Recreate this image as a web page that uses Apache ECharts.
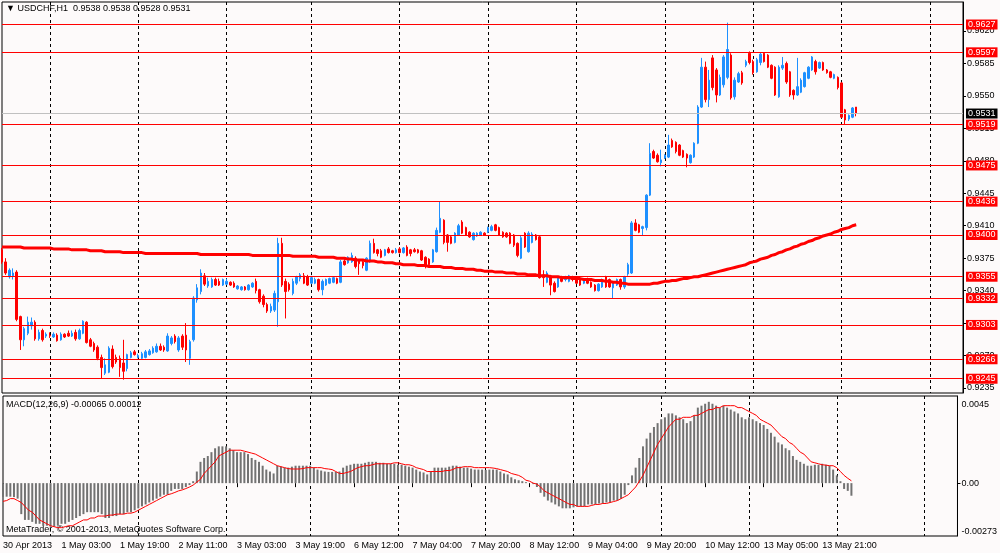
<!DOCTYPE html>
<html>
<head>
<meta charset="utf-8">
<title>USDCHF,H1</title>
<script src="https://cdn.jsdelivr.net/npm/echarts@6/dist/echarts.min.js"></script>
<style>
  html, body { margin: 0; padding: 0; background: #fdfafa; }
  #main { width: 1000px; height: 553px; }
</style>
</head>
<body>
<div id="main"></div>
<script>
// time labels, one every 16 hourly bars
var tickLabels = ['30 Apr 2013', '1 May 03:00', '1 May 19:00', '2 May 11:00', '3 May 03:00',
  '3 May 19:00', '6 May 12:00', '7 May 04:00', '7 May 20:00', '8 May 12:00', '9 May 04:00',
  '9 May 20:00', '10 May 12:00', '13 May 05:00', '13 May 21:00'];
// bars where the daily dashed grid line sits
var gridBars = [13, 37, 61, 84, 108, 132, 156, 180, 204, 228, 252];
var barCount = 262;

var priceTicks = [0.9235, 0.9270, 0.9305, 0.9340, 0.9375, 0.9410, 0.9445, 0.9480, 0.9515, 0.9550, 0.9585, 0.9620];
var macdTicks = [-0.00273, 0, 0.0045];

// horizontal levels drawn on the chart
var levels = [0.9627, 0.9597, 0.9519, 0.9475, 0.9436, 0.9400, 0.9355, 0.9332, 0.9303, 0.9266, 0.9245];
var lastPrice = 0.9531;

// [open, close, low, high]
var ohlc = [
  [0.9384,0.9371,0.9369,0.9386],[0.9371,0.9359,0.9357,0.9375],[0.9355,0.9362,0.9353,0.9364],[0.9356,0.9359,0.9352,0.9364],
  [0.9360,0.9309,0.9307,0.9362],[0.9312,0.9287,0.9276,0.9313],[0.9287,0.9299,0.9280,0.9301],[0.9294,0.9306,0.9292,0.9312],
  [0.9302,0.9306,0.9298,0.9311],[0.9306,0.9288,0.9286,0.9308],[0.9288,0.9295,0.9286,0.9298],[0.9297,0.9287,0.9285,0.9299],
  [0.9291,0.9293,0.9289,0.9295],[0.9292,0.9291,0.9289,0.9295],[0.9290,0.9293,0.9289,0.9295],[0.9292,0.9286,0.9285,0.9294],
  [0.9287,0.9293,0.9286,0.9295],[0.9293,0.9290,0.9289,0.9294],[0.9294,0.9291,0.9290,0.9297],[0.9291,0.9294,0.9290,0.9297],
  [0.9295,0.9288,0.9286,0.9298],[0.9288,0.9297,0.9287,0.9299],[0.9294,0.9307,0.9293,0.9308],[0.9306,0.9284,0.9283,0.9307],
  [0.9287,0.9280,0.9279,0.9289],[0.9283,0.9276,0.9274,0.9285],[0.9279,0.9267,0.9265,0.9281],[0.9268,0.9257,0.9245,0.9271],
  [0.9251,0.9260,0.9249,0.9267],[0.9252,0.9278,0.9251,0.9280],[0.9277,0.9258,0.9256,0.9281],[0.9268,0.9263,0.9261,0.9271],
  [0.9267,0.9257,0.9247,0.9270],[0.9262,0.9253,0.9244,0.9287],[0.9256,0.9271,0.9253,0.9272],[0.9268,0.9273,0.9267,0.9275],
  [0.9274,0.9271,0.9270,0.9276],[0.9268,0.9270,0.9267,0.9272],[0.9267,0.9272,0.9266,0.9274],[0.9268,0.9274,0.9267,0.9276],
  [0.9271,0.9275,0.9270,0.9277],[0.9273,0.9278,0.9272,0.9280],[0.9274,0.9280,0.9273,0.9283],[0.9280,0.9276,0.9275,0.9283],
  [0.9279,0.9276,0.9274,0.9281],[0.9275,0.9291,0.9274,0.9294],[0.9283,0.9289,0.9281,0.9291],[0.9291,0.9285,0.9283,0.9293],
  [0.9276,0.9289,0.9274,0.9291],[0.9291,0.9279,0.9276,0.9293],[0.9292,0.9276,0.9263,0.9305],[0.9267,0.9285,0.9260,0.9287],
  [0.9287,0.9332,0.9285,0.9334],[0.9330,0.9343,0.9327,0.9347],[0.9339,0.9359,0.9336,0.9363],[0.9356,0.9347,0.9345,0.9359],
  [0.9345,0.9350,0.9343,0.9354],[0.9344,0.9352,0.9343,0.9354],[0.9352,0.9346,0.9345,0.9354],[0.9350,0.9346,0.9345,0.9353],
  [0.9346,0.9352,0.9345,0.9353],[0.9347,0.9350,0.9346,0.9353],[0.9349,0.9346,0.9345,0.9350],[0.9348,0.9344,0.9343,0.9350],
  [0.9342,0.9345,0.9341,0.9346],[0.9341,0.9344,0.9340,0.9345],[0.9344,0.9341,0.9340,0.9345],[0.9341,0.9346,0.9340,0.9347],
  [0.9344,0.9348,0.9343,0.9349],[0.9350,0.9340,0.9337,0.9353],[0.9341,0.9328,0.9326,0.9342],[0.9334,0.9325,0.9322,0.9336],
  [0.9325,0.9318,0.9316,0.9327],[0.9318,0.9323,0.9316,0.9326],[0.9319,0.9337,0.9317,0.9340],[0.9328,0.9391,0.9301,0.9397],
  [0.9391,0.9346,0.9344,0.9397],[0.9350,0.9339,0.9310,0.9353],[0.9347,0.9341,0.9339,0.9349],[0.9337,0.9350,0.9335,0.9353],
  [0.9348,0.9355,0.9346,0.9356],[0.9353,0.9357,0.9350,0.9359],[0.9356,0.9348,0.9347,0.9359],[0.9355,0.9346,0.9345,0.9357],
  [0.9348,0.9354,0.9347,0.9356],[0.9348,0.9352,0.9347,0.9354],[0.9352,0.9341,0.9339,0.9353],[0.9341,0.9350,0.9335,0.9352],
  [0.9346,0.9352,0.9345,0.9353],[0.9348,0.9353,0.9347,0.9354],[0.9349,0.9354,0.9348,0.9355],[0.9353,0.9348,0.9347,0.9354],
  [0.9349,0.9371,0.9348,0.9373],[0.9372,0.9368,0.9367,0.9374],[0.9370,0.9376,0.9369,0.9377],[0.9371,0.9378,0.9370,0.9381],
  [0.9375,0.9366,0.9364,0.9377],[0.9373,0.9369,0.9357,0.9374],[0.9371,0.9367,0.9364,0.9373],[0.9362,0.9375,0.9361,0.9376],
  [0.9371,0.9391,0.9370,0.9394],[0.9391,0.9381,0.9380,0.9396],[0.9384,0.9380,0.9377,0.9385],[0.9383,0.9376,0.9375,0.9385],
  [0.9378,0.9384,0.9377,0.9385],[0.9385,0.9381,0.9380,0.9387],[0.9383,0.9381,0.9380,0.9384],[0.9381,0.9384,0.9380,0.9386],
  [0.9385,0.9381,0.9380,0.9387],[0.9381,0.9386,0.9380,0.9387],[0.9387,0.9378,0.9377,0.9389],[0.9384,0.9380,0.9377,0.9385],
  [0.9384,0.9382,0.9381,0.9386],[0.9384,0.9381,0.9380,0.9385],[0.9383,0.9373,0.9372,0.9384],[0.9376,0.9366,0.9364,0.9377],
  [0.9374,0.9368,0.9367,0.9375],[0.9371,0.9384,0.9370,0.9385],[0.9382,0.9405,0.9381,0.9408],[0.9403,0.9418,0.9402,0.9436],
  [0.9416,0.9392,0.9390,0.9417],[0.9400,0.9392,0.9382,0.9401],[0.9398,0.9391,0.9390,0.9399],[0.9392,0.9402,0.9391,0.9403],
  [0.9400,0.9410,0.9399,0.9412],[0.9414,0.9402,0.9401,0.9416],[0.9408,0.9400,0.9399,0.9409],[0.9403,0.9398,0.9397,0.9404],
  [0.9395,0.9402,0.9394,0.9403],[0.9399,0.9402,0.9398,0.9403],[0.9400,0.9403,0.9399,0.9404],[0.9402,0.9400,0.9399,0.9403],
  [0.9403,0.9408,0.9402,0.9409],[0.9405,0.9409,0.9404,0.9411],[0.9411,0.9405,0.9404,0.9412],[0.9408,0.9400,0.9399,0.9409],
  [0.9403,0.9398,0.9397,0.9404],[0.9402,0.9398,0.9397,0.9403],[0.9402,0.9391,0.9390,0.9403],[0.9400,0.9389,0.9387,0.9401],
  [0.9391,0.9378,0.9376,0.9392],[0.9375,0.9397,0.9374,0.9399],[0.9402,0.9387,0.9386,0.9403],[0.9382,0.9402,0.9381,0.9404],
  [0.9392,0.9401,0.9391,0.9403],[0.9400,0.9395,0.9394,0.9401],[0.9398,0.9354,0.9353,0.9399],[0.9357,0.9354,0.9344,0.9362],
  [0.9349,0.9359,0.9348,0.9361],[0.9356,0.9346,0.9335,0.9357],[0.9348,0.9339,0.9338,0.9350],[0.9344,0.9354,0.9343,0.9355],
  [0.9353,0.9350,0.9349,0.9356],[0.9352,0.9355,0.9350,0.9356],[0.9350,0.9356,0.9349,0.9357],[0.9355,0.9352,0.9350,0.9356],
  [0.9354,0.9348,0.9347,0.9355],[0.9353,0.9346,0.9345,0.9354],[0.9348,0.9352,0.9347,0.9353],[0.9353,0.9348,0.9347,0.9354],
  [0.9349,0.9344,0.9343,0.9350],[0.9346,0.9340,0.9339,0.9347],[0.9340,0.9347,0.9339,0.9348],[0.9344,0.9352,0.9343,0.9353],
  [0.9355,0.9344,0.9343,0.9356],[0.9352,0.9344,0.9343,0.9353],[0.9343,0.9349,0.9332,0.9350],[0.9346,0.9352,0.9345,0.9353],
  [0.9352,0.9344,0.9341,0.9353],[0.9344,0.9355,0.9342,0.9356],[0.9358,0.9368,0.9356,0.9370],[0.9359,0.9413,0.9358,0.9415],
  [0.9413,0.9405,0.9404,0.9417],[0.9411,0.9403,0.9402,0.9412],[0.9407,0.9409,0.9400,0.9410],[0.9408,0.9443,0.9405,0.9444],
  [0.9443,0.9488,0.9442,0.9499],[0.9490,0.9483,0.9482,0.9492],[0.9486,0.9479,0.9478,0.9488],[0.9478,0.9481,0.9474,0.9492],
  [0.9483,0.9486,0.9482,0.9487],[0.9484,0.9497,0.9483,0.9508],[0.9502,0.9495,0.9494,0.9504],[0.9500,0.9490,0.9488,0.9501],
  [0.9497,0.9486,0.9485,0.9498],[0.9491,0.9484,0.9483,0.9492],[0.9487,0.9483,0.9473,0.9488],[0.9478,0.9486,0.9477,0.9487],
  [0.9484,0.9499,0.9483,0.9500],[0.9499,0.9538,0.9498,0.9540],[0.9538,0.9581,0.9537,0.9591],[0.9581,0.9546,0.9543,0.9587],
  [0.9546,0.9567,0.9538,0.9578],[0.9591,0.9559,0.9556,0.9594],[0.9578,0.9551,0.9543,0.9580],[0.9551,0.9570,0.9550,0.9573],
  [0.9562,0.9592,0.9559,0.9594],[0.9570,0.9600,0.9568,0.9629],[0.9594,0.9548,0.9546,0.9596],[0.9549,0.9567,0.9546,0.9570],
  [0.9565,0.9574,0.9564,0.9576],[0.9575,0.9564,0.9562,0.9577],[0.9583,0.9587,0.9581,0.9589],[0.9596,0.9586,0.9584,0.9598],
  [0.9587,0.9575,0.9573,0.9589],[0.9576,0.9589,0.9575,0.9591],[0.9586,0.9595,0.9583,0.9597],[0.9596,0.9587,0.9586,0.9597],
  [0.9594,0.9581,0.9580,0.9595],[0.9583,0.9569,0.9568,0.9584],[0.9581,0.9551,0.9550,0.9582],[0.9549,0.9581,0.9548,0.9583],
  [0.9580,0.9583,0.9578,0.9592],[0.9585,0.9565,0.9563,0.9587],[0.9576,0.9551,0.9549,0.9577],[0.9556,0.9551,0.9546,0.9557],
  [0.9551,0.9560,0.9550,0.9591],[0.9554,0.9567,0.9553,0.9569],[0.9560,0.9575,0.9559,0.9576],[0.9569,0.9581,0.9568,0.9582],
  [0.9578,0.9592,0.9577,0.9593],[0.9587,0.9576,0.9573,0.9589],[0.9580,0.9586,0.9579,0.9587],[0.9586,0.9578,0.9577,0.9587],
  [0.9578,0.9575,0.9574,0.9579],[0.9576,0.9570,0.9569,0.9577],[0.9569,0.9573,0.9568,0.9574],[0.9570,0.9559,0.9557,0.9571],
  [0.9564,0.9527,0.9526,0.9565],[0.9535,0.9524,0.9519,0.9536],[0.9525,0.9529,0.9523,0.9530],[0.9527,0.9537,0.9526,0.9538],
  [0.9538,0.9531,0.9528,0.9538]
];

// moving average drawn over the candles
var maValues = [
  0.9387,0.9387,0.9387,0.9387,0.9387,0.9387,0.9386,0.9386,0.9386,0.9386,
  0.9386,0.9386,0.9386,0.9386,0.9385,0.9385,0.9385,0.9385,0.9385,0.9384,
  0.9384,0.9384,0.9384,0.9384,0.9383,0.9383,0.9383,0.9383,0.9382,0.9382,
  0.9382,0.9382,0.9382,0.9381,0.9381,0.9381,0.9381,0.9381,0.9381,0.9380,
  0.9380,0.9380,0.9380,0.9380,0.9380,0.9380,0.9380,0.9380,0.9380,0.9380,
  0.9380,0.9380,0.9380,0.9380,0.9379,0.9379,0.9379,0.9379,0.9379,0.9379,
  0.9379,0.9379,0.9379,0.9379,0.9379,0.9379,0.9379,0.9379,0.9378,0.9378,
  0.9378,0.9378,0.9378,0.9378,0.9378,0.9378,0.9378,0.9378,0.9378,0.9377,
  0.9377,0.9377,0.9377,0.9377,0.9377,0.9377,0.9376,0.9376,0.9376,0.9376,
  0.9376,0.9375,0.9375,0.9375,0.9374,0.9374,0.9373,0.9373,0.9373,0.9372,
  0.9372,0.9372,0.9371,0.9371,0.9370,0.9370,0.9370,0.9369,0.9369,0.9368,
  0.9368,0.9368,0.9368,0.9367,0.9367,0.9367,0.9366,0.9366,0.9366,0.9366,
  0.9365,0.9365,0.9365,0.9364,0.9364,0.9364,0.9363,0.9363,0.9363,0.9362,
  0.9362,0.9361,0.9361,0.9361,0.9360,0.9360,0.9360,0.9359,0.9359,0.9359,
  0.9358,0.9358,0.9358,0.9357,0.9357,0.9357,0.9356,0.9356,0.9356,0.9355,
  0.9355,0.9355,0.9354,0.9354,0.9354,0.9353,0.9353,0.9353,0.9352,0.9352,
  0.9352,0.9351,0.9351,0.9351,0.9350,0.9350,0.9349,0.9349,0.9348,0.9348,
  0.9347,0.9347,0.9347,0.9347,0.9347,0.9347,0.9347,0.9348,0.9348,0.9349,
  0.9350,0.9350,0.9351,0.9351,0.9352,0.9353,0.9353,0.9354,0.9355,0.9355,
  0.9356,0.9357,0.9358,0.9359,0.9360,0.9361,0.9362,0.9363,0.9364,0.9365,
  0.9366,0.9367,0.9368,0.9370,0.9371,0.9372,0.9374,0.9375,0.9376,0.9378,
  0.9379,0.9381,0.9382,0.9384,0.9385,0.9387,0.9388,0.9390,0.9391,0.9393,
  0.9394,0.9396,0.9397,0.9399,0.9400,0.9401,0.9403,0.9404,0.9406,0.9407,
  0.9408,0.9410,0.9411
];

// MACD(12,26,9) main values (histogram)
var macdHist = [
  -0.0007,-0.0007,-0.0007,-0.00072,-0.0008,-0.0016,-0.0019,-0.0019,-0.002,-0.0021,
  -0.0021,-0.0022,-0.0022,-0.00225,-0.00225,-0.0022,-0.0021,-0.0021,-0.002,-0.0019,
  -0.0018,-0.0017,-0.0016,-0.0015,-0.0015,-0.0015,-0.0015,-0.0016,-0.0018,-0.0018,
  -0.0017,-0.0017,-0.0016,-0.0016,-0.0015,-0.0015,-0.0014,-0.0013,-0.0012,-0.0011,
  -0.001,-0.0009,-0.0008,-0.0007,-0.0006,-0.0006,-0.0004,-0.0003,-0.0003,-0.0003,
  -0.0002,-0.0001,0.0001,0.0006,0.0011,0.0013,0.0014,0.0016,0.0018,0.0019,
  0.0019,0.0019,0.0018,0.0017,0.0016,0.0016,0.0016,0.0015,0.0013,0.0012,
  0.0011,0.0009,0.0007,0.0006,0.0005,0.0009,0.00085,0.0008,0.0008,0.00085,
  0.0009,0.0009,0.0009,0.0009,0.0009,0.0008,0.0007,0.00065,0.0006,0.00058,
  0.00058,0.00058,0.0006,0.0008,0.0009,0.00095,0.001,0.001,0.001,0.00105,
  0.0011,0.0011,0.0011,0.00105,0.00105,0.001,0.001,0.001,0.00095,0.00095,
  0.0009,0.00085,0.0008,0.0007,0.0006,0.00055,0.00045,0.0006,0.0008,0.0008,
  0.0008,0.0008,0.00085,0.0009,0.0009,0.00085,0.0008,0.0008,0.00075,0.0007,
  0.0007,0.0007,0.00068,0.0007,0.0007,0.0007,0.0006,0.0005,0.00045,0.0003,
  0.0002,0.00015,0.0001,0.00005,0,-0.00005,-0.0002,-0.0005,-0.0007,-0.0009,
  -0.001,-0.0011,-0.0012,-0.0013,-0.0013,-0.0013,-0.00125,-0.0012,-0.0012,-0.0012,
  -0.0011,-0.0011,-0.0011,-0.00105,-0.00105,-0.001,-0.001,-0.0009,-0.0009,-0.0008,
  -0.0006,-0.0001,0.0004,0.0008,0.0013,0.0019,0.0023,0.0026,0.0029,0.0031,
  0.0033,0.0034,0.0036,0.0036,0.0035,0.0034,0.0033,0.0031,0.0032,0.0035,
  0.0039,0.004,0.0041,0.0042,0.0041,0.004,0.0039,0.004,0.0039,0.0038,
  0.0037,0.0036,0.0034,0.0033,0.0034,0.0033,0.0032,0.0031,0.003,0.0028,
  0.0026,0.0024,0.0021,0.002,0.0018,0.0017,0.0014,0.0012,0.0011,0.001,
  0.0009,0.0009,0.00095,0.00095,0.001,0.00095,0.0009,0.0007,0.0004,0.0001,
  -0.0003,-0.0004,-0.00065
];

// MACD signal line
var macdSignal = [
  -0.00094,-0.0009,-0.0008,-0.0008,-0.0009,-0.001,-0.0012,-0.0014,-0.0015,-0.0017,
  -0.0019,-0.002,-0.0021,-0.0022,-0.00225,-0.0023,-0.0023,-0.00225,-0.0022,-0.0022,
  -0.0021,-0.002,-0.0019,-0.0019,-0.0018,-0.0018,-0.0017,-0.0017,-0.0017,-0.00165,
  -0.00165,-0.0016,-0.0016,-0.0016,-0.00155,-0.00155,-0.0015,-0.0014,-0.0013,-0.0012,
  -0.0011,-0.001,-0.0009,-0.0008,-0.0007,-0.0006,-0.00055,-0.00048,-0.0004,-0.00035,
  -0.00028,-0.0002,-0.0001,0.00005,0.0002,0.0005,0.0007,0.0009,0.0011,0.0014,
  0.0015,0.0016,0.0017,0.0017,0.0017,0.0017,0.00165,0.0016,0.00155,0.0015,
  0.0014,0.0013,0.0012,0.0011,0.001,0.0009,0.00085,0.0008,0.00075,0.00073,
  0.00073,0.00073,0.00075,0.0008,0.0008,0.0008,0.0008,0.0008,0.00075,0.00073,
  0.0007,0.0006,0.0005,0.0005,0.00055,0.0006,0.0007,0.0008,0.00085,0.0009,
  0.0009,0.00095,0.001,0.001,0.001,0.001,0.001,0.00105,0.00105,0.001,
  0.00095,0.00095,0.0009,0.0008,0.00075,0.0007,0.0006,0.0006,0.0006,0.0006,
  0.0006,0.00065,0.00065,0.0007,0.0008,0.0008,0.00085,0.00085,0.00085,0.0008,
  0.0008,0.0008,0.0008,0.0008,0.00078,0.00075,0.0007,0.00065,0.0006,0.0005,
  0.00045,0.0004,0.0003,0.00015,0.0001,0,-0.00005,-0.0002,-0.0004,-0.0005,
  -0.0006,-0.0007,-0.0008,-0.0009,-0.001,-0.0011,-0.0011,-0.0012,-0.0012,-0.0012,
  -0.0012,-0.00115,-0.0011,-0.0011,-0.00105,-0.00105,-0.001,-0.00095,-0.0009,-0.0008,
  -0.0007,-0.0006,-0.0004,-0.0002,0.0001,0.0004,0.0008,0.0012,0.0016,0.002,
  0.0023,0.0026,0.0029,0.0031,0.0033,0.0033,0.0034,0.0034,0.0034,0.0035,
  0.0035,0.0036,0.0037,0.0038,0.0038,0.0039,0.0039,0.004,0.004,0.004,
  0.004,0.0039,0.0039,0.0038,0.0037,0.0036,0.0035,0.0033,0.0032,0.0031,
  0.003,0.0028,0.0026,0.0024,0.0023,0.0021,0.002,0.0018,0.0016,0.0015,
  0.0013,0.0011,0.00105,0.001,0.00095,0.00093,0.0009,0.0009,0.0008,0.0006,
  0.0004,0.00025,0.00012
];

var font = 'Liberation Sans';
var categories = [];
for (var i = 0; i < barCount; i++) {
  categories.push(String(i));
}

function isGridBar(index) {
  return gridBars.indexOf(index) !== -1;
}
function isLabelBar(index) {
  return index % 16 === 0 && index / 16 < tickLabels.length;
}

function tag(bg) {
  return {
    show: true,
    position: 'end',
    distance: 3,
    formatter: function (p) { return Number(p.value).toFixed(4); },
    color: '#fff',
    backgroundColor: bg,
    padding: [1, 2, 0, 2],
    fontSize: 9,
    lineHeight: 9,
    fontFamily: font
  };
}

var levelLines = levels.map(function (v) {
  return { yAxis: v, lineStyle: { color: '#ff0000', width: 1, type: 'solid' }, label: tag('#ff0000') };
});
levelLines.push({ yAxis: lastPrice, lineStyle: { color: '#c0c0c0', width: 1, type: 'solid' }, label: tag('#000000') });

var last = ohlc[ohlc.length - 1];
var titleText = '\u25BC USDCHF,H1  ' + [last[0], last[3], last[2], last[1]].map(function (v) { return v.toFixed(4); }).join(' ');
var macdText = 'MACD(12,26,9) ' + macdHist[macdHist.length - 1].toFixed(5) + ' ' + macdSignal[macdSignal.length - 1].toFixed(5);

var dashed = { show: true, interval: isGridBar, lineStyle: { color: '#000', width: 1, type: [3, 3] } };

var myChart = echarts.init(document.getElementById('main'));

var option = {
  backgroundColor: '#fdfafa',
  animation: false,
  textStyle: { fontFamily: font, fontSize: 9, color: '#000' },
  grid: [
    { left: 2, right: 37, top: 2, height: 391, show: true, borderColor: '#000', borderWidth: 1 },
    { left: 2, right: 37, top: 396, height: 140, show: true, borderColor: '#000', borderWidth: 1 }
  ],
  xAxis: [
    {
      type: 'category', gridIndex: 0, data: categories, boundaryGap: false,
      axisLine: { show: false }, axisTick: { show: false }, axisLabel: { show: false },
      splitLine: dashed
    },
    {
      type: 'category', gridIndex: 1, data: categories, boundaryGap: false,
      axisLine: { show: false },
      axisTick: { show: true, interval: isLabelBar, length: 4, lineStyle: { color: '#000' } },
      axisLabel: {
        interval: isLabelBar,
        formatter: function (value, index) { return tickLabels[index / 16]; },
        align: 'left', color: '#000', fontSize: 9, fontFamily: font, margin: 5
      },
      splitLine: dashed
    }
  ],
  yAxis: [
    {
      type: 'value', gridIndex: 0, position: 'right', min: 0.922961, max: 0.965127,
      axisLine: { show: true, lineStyle: { color: '#000' } },
      axisTick: { show: true, customValues: priceTicks, length: 3, lineStyle: { color: '#000' } },
      axisLabel: {
        customValues: priceTicks, formatter: function (v) { return v.toFixed(4); },
        color: '#000', fontSize: 9, fontFamily: font, margin: 4
      },
      splitLine: { show: false }
    },
    {
      type: 'value', gridIndex: 1, position: 'right', min: -0.00273, max: 0.0045,
      axisLine: { show: true, lineStyle: { color: '#000' } },
      axisTick: { show: true, customValues: [0], length: 3, lineStyle: { color: '#000' } },
      axisLabel: {
        customValues: macdTicks,
        formatter: function (v) {
          if (v === 0) { return '0.00'; }
          return v > 0 ? '{top|' + v + '}' : String(v);
        },
        rich: { top: { padding: [4, 0, 0, 0], fontSize: 9, fontFamily: font, color: '#000' } },
        verticalAlignMinLabel: 'bottom', verticalAlignMaxLabel: 'top',
        color: '#000', fontSize: 9, fontFamily: font, margin: 4
      },
      splitLine: { show: false }
    }
  ],
  graphic: [
    { type: 'text', left: 6, top: 4, style: { text: titleText, font: '9px "Liberation Sans"', fill: '#000' } },
    { type: 'text', left: 6, top: 400, style: { text: macdText, font: '9px "Liberation Sans"', fill: '#000' } },
    { type: 'text', left: 6, top: 525, style: { text: 'MetaTrader, \u00A9 2001-2013, MetaQuotes Software Corp.', font: '9px "Liberation Sans"', fill: '#000' } }
  ],
  series: [
    {
      name: 'USDCHF', type: 'candlestick', xAxisIndex: 0, yAxisIndex: 0,
      data: ohlc, barWidth: 2,
      itemStyle: { color: '#1e90ff', color0: '#ff0000', borderColor: '#1e90ff', borderColor0: '#ff0000', borderWidth: 1 },
      markLine: {
        symbol: ['none', 'none'], silent: true, animation: false, precision: 4,
        lineStyle: { color: '#ff0000', width: 1, type: 'solid', opacity: 1 },
        emphasis: { disabled: true },
        data: levelLines
      }
    },
    {
      name: 'MA', type: 'line', xAxisIndex: 0, yAxisIndex: 0,
      data: maValues, symbol: 'none', silent: true,
      lineStyle: { color: '#ff0000', width: 3 }
    },
    {
      name: 'MACD', type: 'bar', xAxisIndex: 1, yAxisIndex: 1,
      data: macdHist, barWidth: 2, silent: true,
      itemStyle: { color: '#727272' }
    },
    {
      name: 'Signal', type: 'line', xAxisIndex: 1, yAxisIndex: 1,
      data: macdSignal, symbol: 'none', silent: true,
      lineStyle: { color: '#ff0000', width: 1 }
    }
  ]
};

myChart.setOption(option);
</script>
</body>
</html>
